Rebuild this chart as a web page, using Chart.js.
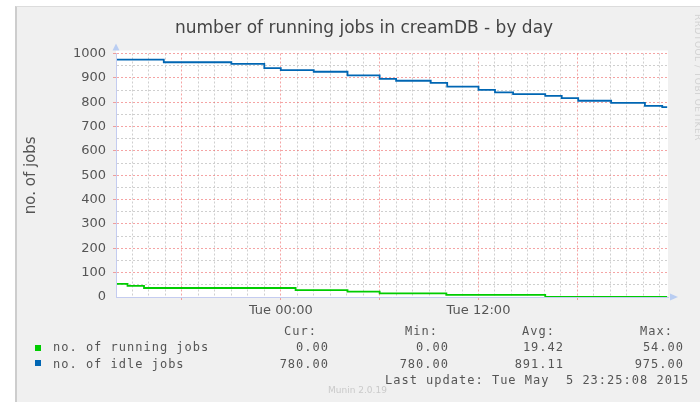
<!DOCTYPE html>
<html><head><meta charset="utf-8">
<script src="https://cdn.jsdelivr.net/npm/chart.js@4.4.1/dist/chart.umd.min.js"></script>
<style>
html,body{margin:0;padding:0;background:#fff;}
#wrap{position:relative;width:700px;height:402px;overflow:hidden;background:#fff;}
#panel{position:absolute;left:15px;top:6px;width:720px;height:420px;background:#f0f0f0;border-left:2px solid #cdcdcd;border-top:1px solid #dcdcdc;}
#c{position:absolute;left:0;top:0;}
#title{position:absolute;left:114px;width:500px;top:16px;text-align:center;font-family:'DejaVu Sans',sans-serif;font-size:17px;line-height:22px;color:#444;white-space:nowrap;}
.t{position:absolute;white-space:pre;font-family:'DejaVu Sans Mono',monospace;font-size:12px;letter-spacing:1px;line-height:14px;color:#555;}
.sq{position:absolute;width:6px;height:6px;}
#munin{position:absolute;left:328px;top:385px;font-family:'DejaVu Sans',sans-serif;font-size:9px;color:#cacaca;white-space:nowrap;}
#rrd{position:absolute;left:704px;top:14px;transform:rotate(90deg);transform-origin:0 0;font-family:'DejaVu Sans',sans-serif;font-size:9px;line-height:12px;color:#d2d2d2;white-space:nowrap;letter-spacing:0.5px;}
</style>
</head>
<body>
<div id="wrap">
<div id="panel"></div>
<canvas id="c" width="700" height="402"></canvas>
<div id="title">number of running jobs in creamDB - by day</div>
<div id="rrd">RRDTOOL / TOBI OETIKER</div>
<div id="legend"></div>
<div id="munin">Munin 2.0.19</div>
</div>
<script>
// ---- data (hours relative to Tue 00:00) ----
const runningTimes  = [-9.94, -9.3, -8.3, 0.9, 4.05, 6.0, 10.05, 16.05, 23.45];
const runningValues = [54, 46, 37, 28, 22, 15, 9, 0, 0];

const idleTimes  = [-9.94, -7.1, -3.0, -1.0, 0.0, 2.0, 4.05, 6.0, 7.0, 9.1, 10.1, 12.0, 13.0, 14.1, 16.05, 17.05, 18.05, 20.05, 22.1, 23.15, 23.45];
const idleValues = [975, 964, 957, 940, 932, 925, 910, 896, 888, 879, 864, 851, 840, 833, 826, 817, 806, 797, 785, 780, 780];

const seriesNames  = ['no. of running jobs', 'no. of idle jobs'];
const seriesColors = ['#00cc00', '#0066b3'];
const statHeaders  = ['Cur:', 'Min:', 'Avg:', 'Max:'];
const statRunning  = ['0.00', '0.00', '19.42', '54.00'];
const statIdle     = ['780.00', '780.00', '891.11', '975.00'];
const lastUpdate   = 'Last update: Tue May  5 23:25:08 2015';

const xTickHours  = [0, 12];
const xTickLabels = ['Tue 00:00', 'Tue 12:00'];
const yTickStep   = 100;

// ---- legend (HTML text) ----
(function(){
  const L = document.getElementById('legend');
  const colRight = [316, 437, 554, 672];
  const valRight = [328, 448, 563, 683];
  function add(txt, css){ const d=document.createElement('div'); d.className='t'; d.textContent=txt; Object.assign(d.style, css); L.appendChild(d); }
  statHeaders.forEach((h,i)=>add(h,{right:(700-colRight[i]-1)+'px', top:'324px'}));
  [statRunning, statIdle].forEach((row,r)=>{
    row.forEach((v,i)=>add(v,{right:(700-valRight[i]-1)+'px', top:(r?357:340)+'px'}));
  });
  seriesNames.forEach((n,r)=>{
    add(n,{left:'53px', top:(r?357:340)+'px'});
    const s=document.createElement('div'); s.className='sq'; s.style.left='35px'; s.style.top=(r?360:345)+'px'; s.style.background=seriesColors[r]; L.appendChild(s);
  });
  add(lastUpdate,{left:'385px', top:'373px'});
})();

const RED = 'rgba(236,90,90,0.55)';
const GRAY = '#cfcfcf';
const NONE = 'rgba(0,0,0,0)';

const plotDecor = {
  id:'plotDecor',
  beforeDraw(chart){
    const {ctx, chartArea:a} = chart;
    ctx.save();
    ctx.fillStyle = '#ffffff';
    ctx.fillRect(a.left, a.top-3, a.right-a.left, a.bottom-a.top+3);
    ctx.restore();
  },
  afterDraw(chart){
    const {ctx, chartArea:a} = chart;
    ctx.save();
    ctx.fillStyle = '#b9cdf2';
    ctx.beginPath();
    ctx.moveTo(a.left-3.5, a.top-3); ctx.lineTo(a.left+3.5, a.top-3); ctx.lineTo(a.left, a.top-10);
    ctx.closePath(); ctx.fill();
    ctx.beginPath();
    ctx.moveTo(a.right+2, a.bottom-3.5); ctx.lineTo(a.right+2, a.bottom+3.5); ctx.lineTo(a.right+10, a.bottom);
    ctx.closePath(); ctx.fill();
    ctx.restore();
  }
};

new Chart(document.getElementById('c'), {
  type:'line',
  data:{
    datasets:[
      { label: seriesNames[1], data: idleTimes.map((t,i)=>({x:t, y:idleValues[i]})),
        borderColor: seriesColors[1], borderWidth:1.8, stepped:true, pointRadius:0, fill:false },
      { label: seriesNames[0], data: runningTimes.map((t,i)=>({x:t, y:runningValues[i]})),
        borderColor: seriesColors[0], borderWidth:1.8, stepped:true, pointRadius:0, fill:false }
    ]
  },
  options:{
    responsive:false, animation:false, events:[],
    layout:{ padding:{left:0, right:32, top:53.5, bottom:75} },
    plugins:{ legend:{display:false}, title:{display:false}, tooltip:{enabled:false} },
    scales:{
      x:{
        type:'linear', min:-10, max:23.5,
        afterFit(s){ s.height = 30; },
        ticks:{ stepSize:1, autoSkip:false, maxRotation:0, includeBounds:false, padding:3,
          color:'#555', font:{family:'DejaVu Sans', size:13},
          callback:(v)=>{ const i = xTickHours.indexOf(Math.round(v)); return i>=0 ? xTickLabels[i] : ''; } },
        grid:{ lineWidth:1, tickLength:3,
          color:(c)=>{ const v=Math.round(c.tick.value); if (v<=-10) return NONE; return v%6===0 ? RED : GRAY; },
          tickColor:(c)=>{ const v=Math.round(c.tick.value); return (v%6===0 && v>-10) ? RED : NONE; } },
        border:{ color:'#c4ccf0', width:1, dash:[2,2] }
      },
      y:{
        min:0, max:1000,
        afterFit(s){ s.width = 116; },
        ticks:{ stepSize:50, autoSkip:false, padding:7, color:'#555', font:{family:'DejaVu Sans', size:13},
          callback:(v)=> (Math.round(v)%yTickStep===0 ? String(Math.round(v)) : '') },
        grid:{ lineWidth:1, tickLength:3,
          color:(c)=>{ const v=Math.round(c.tick.value); if (v===0) return NONE; return v%100===0 ? RED : GRAY; },
          tickColor:(c)=>{ const v=Math.round(c.tick.value); return (v%100===0 && v>0) ? RED : NONE; } },
        border:{ color:'#c4ccf0', width:1, dash:[2,2] },
        title:{ display:true, text:'no. of jobs', color:'#555', font:{family:'DejaVu Sans', size:15}, padding:{top:22, bottom:0} }
      }
    }
  },
  plugins:[plotDecor]
});
</script>
</body></html>
